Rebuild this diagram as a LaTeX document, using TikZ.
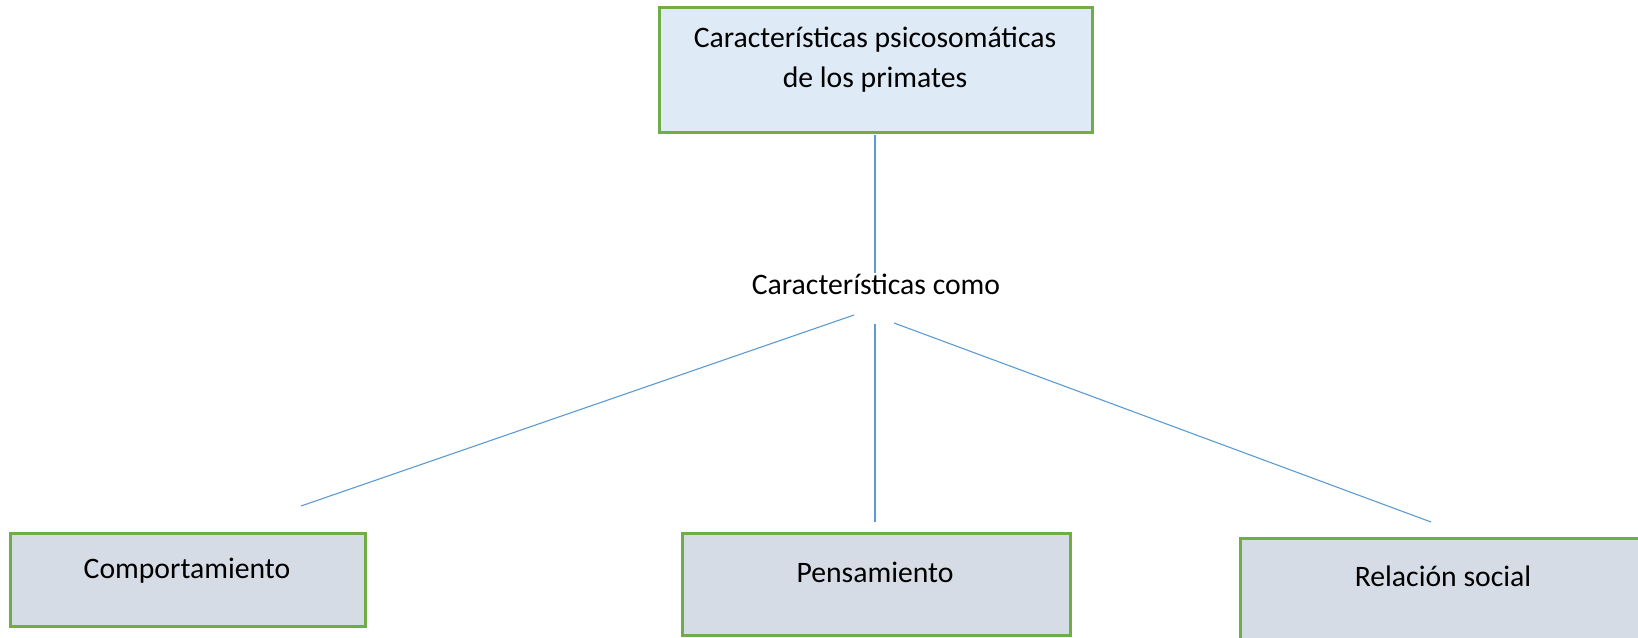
\documentclass[tikz,border=0pt]{standalone}
\usepackage{fontspec}
\setmainfont{Carlito}
\definecolor{bordergreen}{HTML}{70AD47}
\definecolor{topfill}{HTML}{DEEAF6}
\definecolor{botfill}{HTML}{D6DCE5}
\definecolor{linkblue}{HTML}{5B9BD5}
\tikzset{
  boxshape/.style={draw=bordergreen, line width=2.6pt, anchor=north west, inner sep=0pt},
  txt/.style={anchor=base, inner sep=0pt, font=\fontsize{29.7}{40}\selectfont},
  link/.style={draw=linkblue, line width=1.1pt}
}
\begin{document}
\begin{tikzpicture}[x=1pt,y=-1pt]
\useasboundingbox (0,0) rectangle (1638,637);
\clip (0,0) rectangle (1638,637);
% boxes
\node[boxshape, fill=topfill, minimum width=433pt, minimum height=125pt] (topbox) at (658,6) {};
\node[boxshape, fill=botfill, minimum width=355pt, minimum height=93pt] (compbox) at (9,532) {};
\node[boxshape, fill=botfill, minimum width=388pt, minimum height=102pt] (pensbox) at (681,532) {};
\node[boxshape, fill=botfill, minimum width=420pt, minimum height=120pt] (relbox) at (1239,537) {};
% texts
\node[txt] (t1) at (875,47) {Características psicosomáticas};
\node[txt] (t2) at (875,87) {de los primates};
\node[txt] (como) at (876,294) {Características como};
\node[txt] (comp) at (187,578) {Comportamiento};
\node[txt] (pens) at (875,582) {Pensamiento};
\node[txt] (rel) at (1443,586) {Relación social};
% connector end points
\coordinate (a0) at (875,135);
\coordinate (a1) at (875,273);
\coordinate (l0) at (854,315);
\coordinate (l1) at (301,506);
\coordinate (m0) at (875,324);
\coordinate (m1) at (875,522);
\coordinate (r0) at (894,323);
\coordinate (r1) at (1431,522);
\draw[link] (a0) -- (a1);
\draw[link] (l0) -- (l1);
\draw[link] (m0) -- (m1);
\draw[link] (r0) -- (r1);
\end{tikzpicture}
\end{document}
